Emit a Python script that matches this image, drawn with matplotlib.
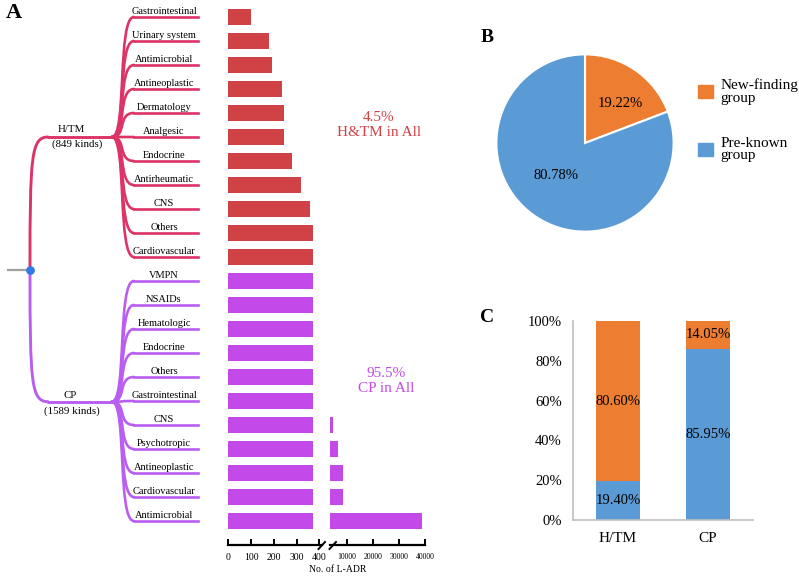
import matplotlib
matplotlib.use("Agg")
import matplotlib.pyplot as plt
import numpy as np
from matplotlib.path import Path
from matplotlib.patches import PathPatch, Patch

plt.rcParams['font.family'] = ['Liberation Serif', 'DejaVu Serif']

# ---- data ----
htm_classes = ['Gastrointestinal', 'Urinary system', 'Antimicrobial', 'Antineoplastic',
               'Dermatology', 'Analgesic', 'Endocrine', 'Antirheumatic', 'CNS',
               'Others', 'Cardiovascular']
htm_counts = [100, 180, 190, 237, 244, 246, 278, 321, 360, 374, 374]

cp_classes = ['VMPN', 'NSAIDs', 'Hematologic', 'Endocrine', 'Others', 'Gastrointestinal',
              'CNS', 'Psychotropic', 'Antineoplastic', 'Cardiovascular', 'Antimicrobial']
cp_counts = [900, 1100, 1400, 1700, 2000, 2400, 4770, 6800, 8540, 8770, 38800]

pie_labels = ['New-finding\ngroup', 'Pre-known\ngroup']
pie_values = [19.22, 80.78]

groups = ['H/TM', 'CP']
pre_known = [19.40, 85.95]
new_finding = [80.60, 14.05]

RED_BAR = '#D04246'
PUR_BAR = '#C34AE8'
RED_TREE = '#DD3468'
PUR_TREE = '#B95EF0'
ORANGE = '#ED7D31'
BLUE = '#5B9BD5'

W, H = 799, 577
fig = plt.figure(figsize=(W / 100, H / 100), dpi=100)


def px_axes(x0, y0, x1, y1):
    # axes given in pixel box (top-left origin)
    return fig.add_axes([x0 / W, (H - y1) / H, (x1 - x0) / W, (y1 - y0) / H])


# overlay for tree and decorations
ov = fig.add_axes([0, 0, 1, 1])
ov.set_xlim(0, W)
ov.set_ylim(H, 0)
ov.axis('off')
ov.patch.set_alpha(0)

# ---- panel A bars (broken axis) ----
all_counts = np.array(htm_counts + cp_counts, dtype=float)
n = len(all_counts)
ypos = np.arange(n)
colors = [RED_BAR] * len(htm_counts) + [PUR_BAR] * len(cp_counts)
seg_cap = 372

axL = px_axes(228.5, 5, 321.6, 545)
axL.barh(ypos, np.minimum(all_counts, seg_cap), height=0.66, color=colors)
axL.set_xlim(0, 410)
axL.set_ylim(n, -0.5)

axR = px_axes(330, 5, 425, 545)
axR.barh(ypos, all_counts, height=0.66, color=colors)
axR.set_xlim(3600, 40000)
axR.set_ylim(n, -0.5)

for ax, ticks, fs in [(axL, [0, 100, 200, 300, 400], 7), (axR, [10000, 20000, 30000, 40000], 5.6)]:
    ax.patch.set_alpha(0)
    for s in ['top', 'right', 'left']:
        ax.spines[s].set_visible(False)
    ax.spines['bottom'].set_linewidth(1.6)
    ax.set_xticks(ticks)
    ax.set_xticklabels([str(t) for t in ticks], fontsize=fs)
    ax.tick_params(axis='x', direction='in', length=4, width=1.4, pad=6)
    ax.set_yticks([])

# break marks
ov.plot([318.5, 325], [549, 542], color='black', lw=1.4)
ov.plot([329.5, 336], [549, 542], color='black', lw=1.4)
fig.text(338 / W, 1 - 570 / H, 'No. of L-ADR', fontsize=7, ha='center', va='center')

# ---- tree ----
leaf_y = [ov.transData.inverted().transform(axL.transData.transform((0, y)))[1] for y in ypos]


def curve(p0, c1, c2, p1, color, lw=1.9):
    path = Path([p0, c1, c2, p1], [Path.MOVETO, Path.CURVE4, Path.CURVE4, Path.CURVE4])
    ov.add_patch(PathPatch(path, fc='none', ec=color, lw=lw, capstyle='round'))


root = (30, 270)
branch_y = {'H/TM': 137, 'CP': 401.7}
for grp, col, names, idx in [('H/TM', RED_TREE, htm_classes, range(0, 11)),
                             ('CP', PUR_TREE, cp_classes, range(11, 22))]:
    by = branch_y[grp]
    curve(root, (30, by + (root[1] - by) * 0.15), (31, by), (48, by), col, 2.1)
    ov.plot([48, 113], [by, by], color=col, lw=2.1, solid_capstyle='round')
    for name, i in zip(names, idx):
        ly = leaf_y[i]
        curve((112, by), (127, by), (117, ly), (134, ly), col)
        ov.plot([134, 198], [ly, ly], color=col, lw=1.9)
        ov.text(164, ly - 1.5, name, fontsize=7.5, ha='center', va='bottom')

ov.plot([8, 30], [270, 270], color='#A0A0A0', lw=1.6)
ov.scatter([30], [270], s=28, color='#2E7BE6', zorder=5)

ov.text(71, 129, 'H/TM', fontsize=7.8, ha='center', va='center')
ov.text(77, 144, '(849 kinds)', fontsize=7.8, ha='center', va='center')
ov.text(70, 396, 'CP', fontsize=7.8, ha='center', va='center')
ov.text(72, 411, '(1589 kinds)', fontsize=7.8, ha='center', va='center')

ov.text(379, 125, '4.5%\nH&TM in All', fontsize=11, color=RED_BAR, ha='center',
        va='center', linespacing=1.25)
ov.text(386, 381, '95.5%\nCP in All', fontsize=11, color=PUR_BAR, ha='center',
        va='center', linespacing=1.25)

ov.text(6, 18, 'A', fontsize=16, fontweight='bold', ha='left', va='baseline')
ov.text(481, 42, 'B', fontsize=14, fontweight='bold', ha='left', va='baseline')
ov.text(480, 322, 'C', fontsize=14, fontweight='bold', ha='left', va='baseline')

# ---- panel B pie ----
axP = px_axes(495.5, 53.5, 674.5, 232.5)
wedges, texts, autotexts = axP.pie(
    pie_values, colors=[ORANGE, BLUE], startangle=90, counterclock=False,
    wedgeprops=dict(edgecolor='white', linewidth=1.5),
    autopct='%.2f%%', textprops=dict(fontsize=10.5))
autotexts[0].set_position((0.40, 0.45))
autotexts[1].set_position((-0.33, -0.37))
axP.set_xlim(-1.01, 1.01)
axP.set_ylim(-1.01, 1.01)
leg = fig.legend(handles=[Patch(color=ORANGE), Patch(color=BLUE)], labels=pie_labels,
                 loc='upper left', bbox_to_anchor=(693 / W, 1 - 74 / H), frameon=False,
                 fontsize=11, handlelength=1.0, handleheight=1.0, labelspacing=2.1,
                 handletextpad=0.5, borderaxespad=0, borderpad=0.3)
for t in leg.get_texts():
    t.set_linespacing(0.95)

# ---- panel C stacked bars ----
axC = px_axes(573, 321, 753, 520)
xc = np.arange(len(groups))
axC.bar(xc, pre_known, width=0.48, color=BLUE)
axC.bar(xc, new_finding, width=0.48, bottom=pre_known, color=ORANGE)
for x, b, t in zip(xc, pre_known, new_finding):
    axC.text(x, b / 2, f'{b:.2f}%', ha='center', va='center', fontsize=10.5)
    axC.text(x, b + t / 2, f'{t:.2f}%', ha='center', va='center', fontsize=10.5)
axC.set_xlim(-0.5, 1.5)
axC.set_ylim(0, 100)
axC.set_yticks(range(0, 101, 20))
axC.set_yticklabels([f'{v}%' for v in range(0, 101, 20)], fontsize=10.5)
axC.set_xticks(xc)
axC.set_xticklabels(groups, fontsize=11)
axC.tick_params(length=0)
axC.tick_params(axis='x', pad=9)
axC.tick_params(axis='y', pad=8)
for s in ['top', 'right']:
    axC.spines[s].set_visible(False)
for s in ['left', 'bottom']:
    axC.spines[s].set_color('#BFBFBF')
    axC.spines[s].set_linewidth(1.2)

fig.savefig('out.png', dpi=100)
